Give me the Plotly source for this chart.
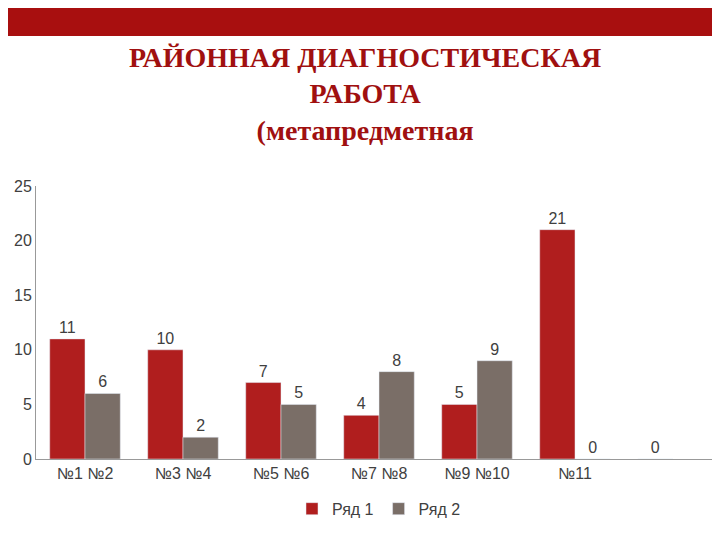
import plotly.graph_objects as go

categories = ["№1 №2", "№3 №4", "№5 №6", "№7 №8", "№9 №10", "№11", " "]
ryad1 = [11, 10, 7, 4, 5, 21, 0]
ryad2 = [6, 2, 5, 8, 9, 0, None]

fig = go.Figure()
fig.add_bar(x=categories, y=ryad1, name="Ряд 1", marker_color="#b01e1e",
            text=ryad1, textposition="outside")
fig.add_bar(x=categories, y=ryad2, name="Ряд 2", marker_color="#7a6e67",
            text=ryad2, textposition="outside")

fig.update_traces(textfont=dict(size=16, color="#404040", family="Liberation Sans"),
                  cliponaxis=False)

fig.update_layout(
    width=720, height=540,
    margin=dict(l=28, r=6, t=178, b=89, autoexpand=False),
    paper_bgcolor="white", plot_bgcolor="white",
    barmode="group", bargap=0.28, bargroupgap=0,
    font=dict(family="Liberation Sans", size=16, color="#404040"),
    showlegend=True,
    legend=dict(orientation="h", x=0.5, xanchor="center", y=-0.12, yanchor="top",
                font=dict(size=16)),
    yaxis=dict(range=[0, 25], dtick=5, showgrid=False, showline=True,
               linecolor="#999999", ticks="outside", ticklen=0,
               tickfont=dict(size=16)),
    xaxis=dict(showline=True, linecolor="#999999", tickfont=dict(size=16)),
    shapes=[dict(type="rect", xref="paper", yref="paper", x0=-0.1, x1=1.1,
                 y0=1.549, y1=1.7, fillcolor="#a80f0f", line_width=0, layer="below")],
    annotations=[dict(
        text="<b>РАЙОННАЯ ДИАГНОСТИЧЕСКАЯ<br>РАБОТА<br>(метапредметная</b>",
        xref="paper", yref="paper", x=0.48, y=1.535, yanchor="top", showarrow=False,
        font=dict(family="Liberation Serif", size=28, color="#a01010"))],
)

fig.write_html("out.html")
